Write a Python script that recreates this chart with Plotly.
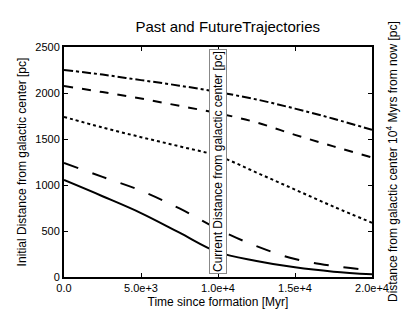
import plotly.graph_objects as go

time_myr = [0, 2500, 5000, 7500, 10000, 12500, 15000, 17500, 20000]
orbit_a = [2250, 2200, 2140, 2080, 2010, 1930, 1830, 1720, 1600]
orbit_b = [2075, 2010, 1940, 1860, 1780, 1680, 1545, 1420, 1300]
orbit_c = [1740, 1625, 1520, 1420, 1315, 1135, 950, 765, 590]
orbit_d = [1240, 1088, 938, 745, 520, 335, 195, 120, 72]
orbit_e = [1054, 878, 695, 482, 270, 175, 105, 58, 30]

x_ticks = [0, 5000, 10000, 15000, 20000]
x_tick_text = ["0.0", "5.0e+3", "1.0e+4", "1.5e+4", "2.0e+4"]

FONT = "Liberation Sans"

fig = go.Figure()
for ys, dash in [(orbit_a, "dashdot"), (orbit_b, "dash"), (orbit_c, "dot"),
                 (orbit_d, "longdash"), (orbit_e, "solid")]:
    fig.add_trace(go.Scatter(x=time_myr, y=ys, mode="lines",
                             line=dict(color="black", width=2, dash=dash, shape="spline", smoothing=1.0),
                             showlegend=False))

fig.add_annotation(x=10000, y=1250, xref="x", yref="y",
                   text="Current Distance from galactic center [pc]",
                   textangle=-90, showarrow=False, bgcolor="white",
                   bordercolor="#888888", borderwidth=1, borderpad=1,
                   font=dict(family=FONT, size=12, color="black"))
fig.add_annotation(x=1.0, y=0.5, xref="paper", yref="paper", xshift=30,
                   text="Distance from galactic center 10<sup>4</sup> Myrs from now [pc]",
                   textangle=-90, showarrow=False,
                   font=dict(family=FONT, size=12, color="black"))

axis_common = dict(showline=True, linecolor="black", linewidth=2, mirror="ticks",
                   ticks="inside", ticklen=4, tickcolor="black", showgrid=False,
                   zeroline=False, tickfont=dict(family=FONT, size=11, color="black"))

# the page body adds an 8px margin, so the figure is a bit smaller than the window
fig.update_layout(
    width=407, height=313,
    margin=dict(l=56, r=43, t=39, b=44, autoexpand=False),
    paper_bgcolor="white", plot_bgcolor="white",
    font=dict(family=FONT, color="black"),
    title=dict(text="Past and FutureTrajectories", x=0.54, xanchor="center",
               y=0.94, yanchor="middle", font=dict(family=FONT, size=15, color="black")),
    xaxis=dict(range=[0, 20000], tickvals=x_ticks, ticktext=x_tick_text,
               title=dict(text="Time since formation [Myr]", font=dict(family=FONT, size=12), standoff=4),
               **axis_common),
    yaxis=dict(range=[0, 2500], tickvals=[0, 500, 1000, 1500, 2000, 2500],
               title=dict(text="Initial Distance from galactic center [pc]", font=dict(family=FONT, size=12), standoff=6),
               **axis_common),
)

fig.write_html("out.html")
